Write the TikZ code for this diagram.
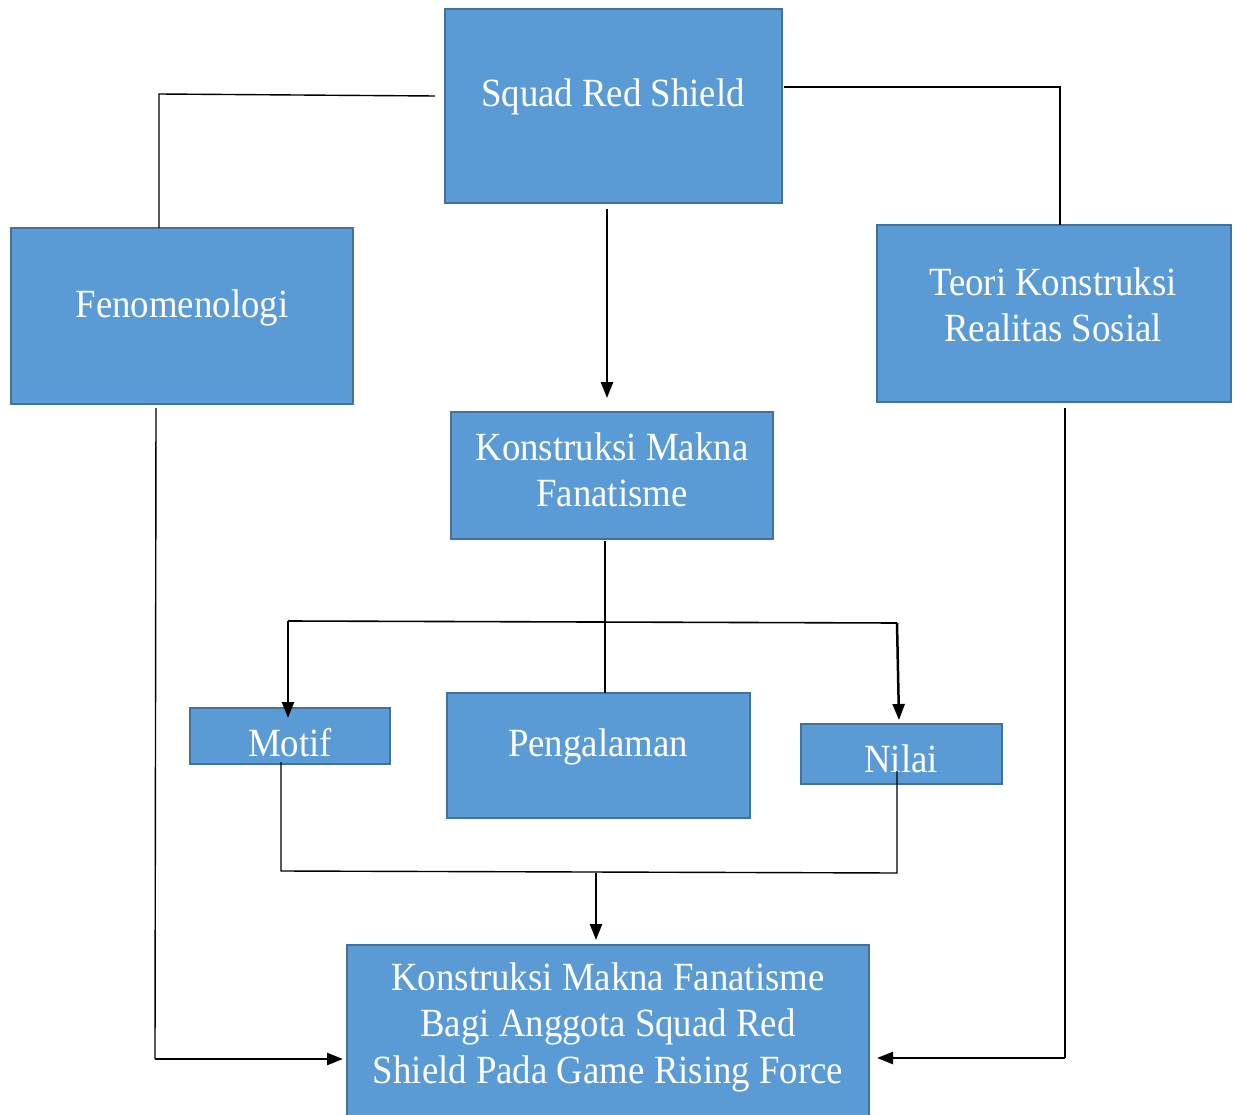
\documentclass[tikz,border=0pt]{standalone}
\usepackage{fontspec}
\setmainfont{Liberation Serif}[FakeStretch=0.92]
\usetikzlibrary{arrows.meta}
\definecolor{boxfill}{HTML}{5B9BD5}
\definecolor{boxline}{HTML}{41719C}
\begin{document}
\begin{tikzpicture}[x=1pt,y=-1pt,
  box/.style={draw=boxline, fill=boxfill, line width=2.4pt, inner sep=0pt},
  txt/.style={text=white, font=\fontsize{40}{46.5}\selectfont, align=center, inner sep=0pt},
  thinline/.style={line width=1.4pt},
  arr/.style={line width=2.5pt, -{Triangle[length=16pt,width=12pt]}},
]
\useasboundingbox (0,0) rectangle (1237,1115);

% boxes
\node[box, minimum width=337pt, minimum height=194pt] (srs) at (613.5,106) {};
\node[box, minimum width=342pt, minimum height=176pt] (fen) at (182,316) {};
\node[box, minimum width=354pt, minimum height=177pt] (teo) at (1054,313.5) {};
\node[box, minimum width=322pt, minimum height=127pt] (kmf) at (612,475.5) {};
\node[box, minimum width=200pt, minimum height=56pt] (mot) at (290,736) {};
\node[box, minimum width=303pt, minimum height=125pt] (pen) at (598.5,755.5) {};
\node[box, minimum width=201pt, minimum height=60pt] (nil) at (901.5,754) {};
\node[box, minimum width=522pt, minimum height=185pt] (fin) at (608,1037.5) {};

% texts
\node[txt] (srsT) at (613,97) {Squad Red Shield};
\node[txt] (fenT) at (182,308) {Fenomenologi};
\node[txt] (teoT) at (1053,305) {Teori Konstruksi\\Realitas Sosial};
\node[txt] (kmfT) at (612,470) {Konstruksi Makna\\Fanatisme};
\node[txt] (motT) at (290,743) {Motif};
\node[txt] (penT) at (598,747) {Pengalaman};
\node[txt] (nilT) at (901,759) {Nilai};
\node[txt] (finT) at (608,1027) {Konstruksi Makna Fanatisme\\Bagi Anggota Squad Red\\Shield Pada Game Rising Force};

% coordinates
\coordinate (sL) at (435,96);
\coordinate (sLc) at (159,94);
\coordinate (fTop) at (159,228);
\coordinate (sR) at (784,87);
\coordinate (sRc) at (1060,87);
\coordinate (tTop) at (1060,225);
\coordinate (dA) at (607,209);
\coordinate (dB) at (607,398);
\coordinate (fB) at (156,408);
\coordinate (fC) at (155,1059);
\coordinate (fD) at (343,1059);
\coordinate (tB) at (1065,408);
\coordinate (tC) at (1065,1058);
\coordinate (tD) at (877,1058);
\coordinate (kB) at (605,541);
\coordinate (pT) at (605,693);
\coordinate (hL) at (288,621);
\coordinate (hR) at (897,623);
\coordinate (mA) at (288,718);
\coordinate (nA) at (899,720);
\coordinate (mB) at (281,762);
\coordinate (mC) at (281,871);
\coordinate (nC) at (897,873);
\coordinate (nB) at (897,771);
\coordinate (jA) at (596,873);
\coordinate (jB) at (596,940);

% connectors
\draw[thinline] (sL) -- (sLc) -- (fTop);
\draw[thinline] (sR) -- (sRc) -- (tTop);
\draw[arr] (dA) -- (dB);
\draw[thinline] (fB) -- (fC);
\draw[arr] (fC) -- (fD);
\draw[thinline] (tB) -- (tC);
\draw[arr] (tC) -- (tD);
\draw[line width=2pt] (kB) -- (pT);
\draw[line width=1.6pt] (hL) -- (hR);
\draw[arr] (hL) -- (mA);
\draw[arr] (hR) -- (nA);
\draw[thinline] (mB) -- (mC) -- (nC) -- (nB);
\draw[arr] (jA) -- (jB);
\end{tikzpicture}
\end{document}
